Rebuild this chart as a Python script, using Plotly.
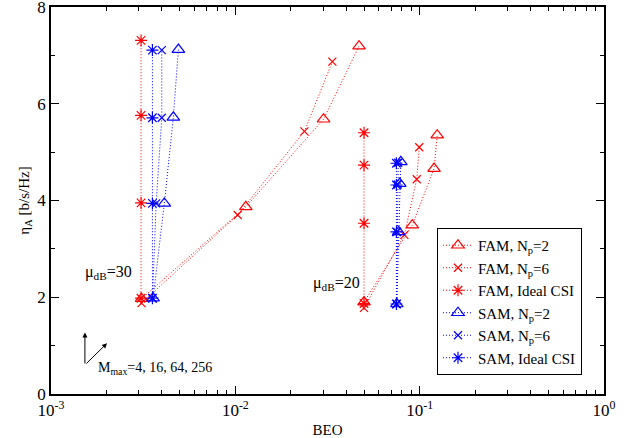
import plotly.graph_objects as go

# ---- data (BEO, eta_A) ----
fam_np2_30_x = [0.0031, 0.0114, 0.0301, 0.0469]
fam_np2_30_y = [1.97, 3.87, 5.68, 7.19]
fam_np6_30_x = [0.0031, 0.0103, 0.0237, 0.0336]
fam_np6_30_y = [1.88, 3.70, 5.43, 6.87]
fam_ideal_30_x = [0.00308, 0.00308, 0.00308, 0.00308]
fam_ideal_30_y = [1.98, 3.95, 5.76, 7.31]

sam_np2_30_x = [0.00358, 0.00412, 0.00461, 0.00491]
sam_np2_30_y = [1.98, 3.94, 5.72, 7.12]
sam_np6_30_x = [0.00355, 0.00372, 0.00399, 0.00399]
sam_np6_30_y = [1.98, 3.94, 5.71, 7.11]
sam_ideal_30_x = [0.00355, 0.00355, 0.00355, 0.00355]
sam_ideal_30_y = [1.98, 3.94, 5.71, 7.11]

fam_np2_20_x = [0.0499, 0.0912, 0.1197, 0.1245]
fam_np2_20_y = [1.90, 3.49, 4.66, 5.35]
fam_np6_20_x = [0.0499, 0.0826, 0.0964, 0.0995]
fam_np6_20_y = [1.78, 3.29, 4.44, 5.10]
fam_ideal_20_x = [0.0499, 0.0499, 0.0499, 0.0499]
fam_ideal_20_y = [1.87, 3.53, 4.73, 5.40]

sam_np2_20_x = [0.0752, 0.0770, 0.0780, 0.0790]
sam_np2_20_y = [1.86, 3.35, 4.35, 4.80]
sam_np6_20_x = [0.0750, 0.0755, 0.0760, 0.0765]
sam_np6_20_y = [1.86, 3.35, 4.33, 4.78]
sam_ideal_20_x = [0.0748, 0.0748, 0.0748, 0.0748]
sam_ideal_20_y = [1.86, 3.35, 4.32, 4.77]

x_tickvals = [0.001, 0.01, 0.1, 1]
x_ticktext = ["10<sup>-3</sup>", "10<sup>-2</sup>", "10<sup>-1</sup>", "10<sup>0</sup>"]
y_tickvals = [0, 2, 4, 6, 8]

RED = "#ff0000"
BLUE = "#0000ff"
FONT = "Liberation Serif, Times New Roman, serif"
DOT = "1px,2px"

series = [
    ("FAM, N<sub>p</sub>=2", RED, "triangle-up-open", 11,
     [(fam_np2_30_x, fam_np2_30_y), (fam_np2_20_x, fam_np2_20_y)]),
    ("FAM, N<sub>p</sub>=6", RED, "x-thin-open", 8,
     [(fam_np6_30_x, fam_np6_30_y), (fam_np6_20_x, fam_np6_20_y)]),
    ("FAM, Ideal CSI", RED, "asterisk-open", 10,
     [(fam_ideal_30_x, fam_ideal_30_y), (fam_ideal_20_x, fam_ideal_20_y)]),
    ("SAM, N<sub>p</sub>=2", BLUE, "triangle-up-open", 11,
     [(sam_np2_30_x, sam_np2_30_y), (sam_np2_20_x, sam_np2_20_y)]),
    ("SAM, N<sub>p</sub>=6", BLUE, "x-thin-open", 8,
     [(sam_np6_30_x, sam_np6_30_y), (sam_np6_20_x, sam_np6_20_y)]),
    ("SAM, Ideal CSI", BLUE, "asterisk-open", 10,
     [(sam_ideal_30_x, sam_ideal_30_y), (sam_ideal_20_x, sam_ideal_20_y)]),
]

fig = go.Figure()
for name, color, sym, size, groups in series:
    for i, (xs, ys) in enumerate(groups):
        fig.add_trace(go.Scatter(
            x=xs, y=ys, mode="lines+markers", name=name,
            legendgroup=name, showlegend=(i == 0),
            line=dict(color=color, width=1, dash=DOT),
            marker=dict(symbol=sym, size=size, color=color,
                        line=dict(color=color, width=1.2)),
        ))

annotations = [
    dict(x=-2.826, y=2.52, xref="x", yref="y", text="μ<sub>dB</sub>=30",
         showarrow=False, xanchor="left", yanchor="middle",
         font=dict(family=FONT, size=16, color="black")),
    dict(x=-1.589, y=2.29, xref="x", yref="y", text="μ<sub>dB</sub>=20",
         showarrow=False, xanchor="left", yanchor="middle",
         font=dict(family=FONT, size=16, color="black")),
    dict(x=-2.756, y=0.52, xref="x", yref="y", text="M<sub>max</sub>=4, 16, 64, 256",
         showarrow=False, xanchor="left", yanchor="middle",
         font=dict(family=FONT, size=14, color="black")),
    dict(x=-2.816, y=1.27, ax=-2.816, ay=0.60, xref="x", yref="y",
         axref="x", ayref="y", text="", showarrow=True,
         arrowhead=2, arrowsize=1, arrowwidth=1, arrowcolor="black"),
    dict(x=-2.696, y=1.05, ax=-2.816, ay=0.60, xref="x", yref="y",
         axref="x", ayref="y", text="", showarrow=True,
         arrowhead=2, arrowsize=1, arrowwidth=1, arrowcolor="black"),
]

fig.update_layout(
    width=629, height=438,
    margin=dict(l=51, r=25, t=7, b=44),
    paper_bgcolor="white", plot_bgcolor="white",
    font=dict(family=FONT, size=16, color="black"),
    showlegend=True,
    legend=dict(x=0.698, y=0.429, xanchor="left", yanchor="top",
                bordercolor="black", borderwidth=1, bgcolor="white",
                font=dict(family=FONT, size=15), tracegroupgap=0,
                itemwidth=30),
    annotations=annotations,
    xaxis=dict(type="log", range=[-3, 0], tickvals=x_tickvals, ticktext=x_ticktext,
               ticks="inside", ticklen=8, tickcolor="black", showline=True,
               linecolor="black", linewidth=1.5, mirror="allticks",
               showgrid=False, zeroline=False, automargin=False,
               ticklabeloverflow="allow",
               tickfont=dict(family=FONT, size=17),
               title=dict(text="BEO", font=dict(family=FONT, size=15), standoff=5),
               minor=dict(ticks="inside", ticklen=4, tickcolor="black", dtick="D1",
                          showgrid=False)),
    yaxis=dict(range=[0, 8], tickvals=y_tickvals,
               ticks="inside", ticklen=8, tickcolor="black", showline=True,
               linecolor="black", linewidth=1.5, mirror="allticks",
               showgrid=False, zeroline=False, automargin=False,
               ticklabeloverflow="allow",
               tickfont=dict(family=FONT, size=17),
               title=dict(text="η<sub>A</sub> [b/s/Hz]", font=dict(family=FONT, size=15),
                          standoff=4),
               minor=dict(ticks="inside", ticklen=4, tickcolor="black", dtick=1,
                          showgrid=False)),
)

fig.write_html("out.html", config={"displayModeBar": False},
               post_script="document.body.style.margin='0';document.body.style.overflow='hidden';")
